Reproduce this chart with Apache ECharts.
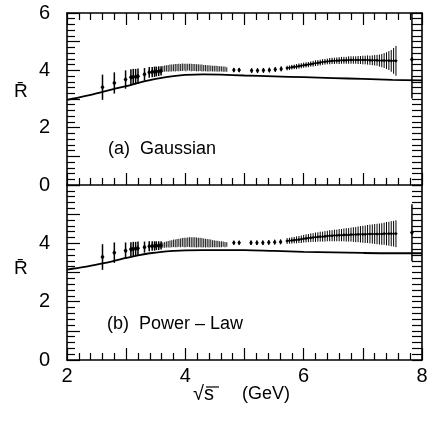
<!DOCTYPE html>
<html><head><meta charset="utf-8">
<script src="https://cdn.jsdelivr.net/npm/echarts@6/dist/echarts.min.js"></script>
<style>html,body{margin:0;padding:0;background:#fff}#c{width:427px;height:423px}</style>
</head><body><div id="c"></div>
<script>
// ---- data (x = sqrt(s) GeV, y = R, err) ----
const curveX = [2.0,2.3,2.6,2.8,3.0,3.2,3.4,3.6,3.8,4.0,4.3,4.6,5.0,5.5,6.0,6.5,7.0,7.5,8.0];
const curveGauss = [2.97,3.10,3.25,3.35,3.45,3.56,3.66,3.74,3.80,3.84,3.86,3.85,3.82,3.79,3.76,3.73,3.70,3.67,3.65];
const curvePower = [3.10,3.19,3.31,3.40,3.50,3.59,3.66,3.71,3.74,3.76,3.77,3.77,3.77,3.74,3.71,3.69,3.67,3.66,3.66];

const sparseA = [[2.60,3.41,0.44],[2.80,3.56,0.37],[2.99,3.68,0.32],[3.08,3.76,0.28],[3.12,3.77,0.28],[3.16,3.78,0.27],[3.20,3.79,0.27],[3.31,3.86,0.22],[3.39,3.93,0.19],[3.44,3.94,0.18],[3.48,3.95,0.18],[3.51,3.96,0.17],[3.55,3.97,0.17],[3.59,3.98,0.16]];
const sparseB = [[2.60,3.53,0.44],[2.80,3.68,0.35],[2.99,3.75,0.28],[3.08,3.80,0.24],[3.12,3.81,0.24],[3.16,3.82,0.23],[3.20,3.83,0.23],[3.31,3.87,0.19],[3.39,3.90,0.17],[3.44,3.91,0.16],[3.48,3.91,0.16],[3.51,3.92,0.15],[3.55,3.92,0.15],[3.59,3.93,0.14]];

const bandA = [[3.62,4.05,0.10],[3.65,4.06,0.11],[3.68,4.07,0.11],[3.71,4.07,0.12],[3.74,4.08,0.12],[3.77,4.08,0.12],[3.80,4.09,0.12],[3.83,4.09,0.13],[3.86,4.10,0.12],[3.89,4.10,0.13],[3.92,4.10,0.12],[3.95,4.11,0.13],[3.98,4.11,0.12],[4.01,4.10,0.13],[4.04,4.11,0.12],[4.07,4.11,0.12],[4.10,4.10,0.13],[4.13,4.10,0.12],[4.16,4.10,0.12],[4.19,4.09,0.12],[4.22,4.09,0.12],[4.25,4.09,0.11],[4.28,4.08,0.12],[4.31,4.08,0.11],[4.34,4.08,0.11],[4.37,4.07,0.11],[4.40,4.07,0.11],[4.43,4.07,0.10],[4.46,4.06,0.10],[4.49,4.06,0.10],[4.52,4.06,0.10],[4.55,4.05,0.10],[4.58,4.05,0.09],[4.61,4.05,0.09],[4.64,4.04,0.09],[4.67,4.04,0.09],[4.70,4.03,0.08]];
const bandB = [[3.62,3.94,0.09],[3.65,3.95,0.10],[3.68,3.96,0.10],[3.71,3.97,0.11],[3.74,3.98,0.12],[3.77,3.99,0.12],[3.80,4.00,0.13],[3.83,4.00,0.13],[3.86,4.01,0.14],[3.89,4.02,0.14],[3.92,4.02,0.15],[3.95,4.03,0.15],[3.98,4.03,0.16],[4.01,4.03,0.16],[4.04,4.04,0.16],[4.07,4.04,0.17],[4.10,4.04,0.17],[4.13,4.04,0.17],[4.16,4.04,0.17],[4.19,4.03,0.17],[4.22,4.03,0.16],[4.25,4.03,0.16],[4.28,4.02,0.16],[4.31,4.02,0.15],[4.34,4.01,0.15],[4.37,4.01,0.14],[4.40,4.00,0.14],[4.43,4.00,0.13],[4.46,3.99,0.12],[4.49,3.99,0.12],[4.52,3.98,0.11],[4.55,3.98,0.11],[4.58,3.97,0.10],[4.61,3.97,0.10],[4.64,3.97,0.09],[4.67,3.96,0.09],[4.70,3.96,0.08]];

const midA = [[4.82,4.01,0.07],[4.91,4.01,0.07],[5.12,3.99,0.08],[5.22,3.99,0.08],[5.32,4.00,0.08],[5.42,4.01,0.08],[5.52,4.03,0.08],[5.62,4.05,0.08]];
const midB = [[4.82,4.02,0.07],[4.91,4.02,0.07],[5.11,4.02,0.08],[5.21,4.02,0.08],[5.31,4.02,0.08],[5.41,4.03,0.08],[5.51,4.04,0.08],[5.61,4.05,0.08]];

const denseA = [[5.72,4.08,0.08],[5.76,4.09,0.08],[5.80,4.11,0.08],[5.84,4.12,0.08],[5.88,4.13,0.09],[5.92,4.15,0.09],[5.96,4.16,0.09],[6.00,4.18,0.09],[6.04,4.19,0.09],[6.08,4.20,0.09],[6.12,4.22,0.09],[6.16,4.23,0.10],[6.20,4.25,0.10],[6.24,4.26,0.10],[6.28,4.27,0.10],[6.32,4.29,0.10],[6.36,4.30,0.10],[6.40,4.31,0.10],[6.44,4.32,0.11],[6.48,4.33,0.11],[6.52,4.33,0.11],[6.56,4.34,0.11],[6.60,4.34,0.12],[6.64,4.35,0.12],[6.68,4.35,0.12],[6.72,4.35,0.12],[6.76,4.36,0.13],[6.80,4.36,0.13],[6.84,4.36,0.13],[6.88,4.36,0.13],[6.92,4.36,0.14],[6.96,4.36,0.14],[7.00,4.36,0.15],[7.04,4.36,0.15],[7.08,4.36,0.16],[7.12,4.35,0.16],[7.16,4.35,0.17],[7.20,4.35,0.18],[7.24,4.35,0.19],[7.28,4.34,0.21],[7.32,4.34,0.23],[7.36,4.34,0.26],[7.40,4.34,0.29],[7.44,4.34,0.33],[7.48,4.33,0.38],[7.52,4.33,0.45],[7.56,4.33,0.52]];
const denseB = [[5.72,4.08,0.10],[5.76,4.09,0.10],[5.80,4.10,0.11],[5.84,4.11,0.11],[5.88,4.12,0.12],[5.92,4.13,0.12],[5.96,4.14,0.13],[6.00,4.16,0.13],[6.04,4.17,0.14],[6.08,4.18,0.14],[6.12,4.19,0.15],[6.16,4.20,0.15],[6.20,4.21,0.16],[6.24,4.22,0.16],[6.28,4.23,0.17],[6.32,4.23,0.17],[6.36,4.24,0.18],[6.40,4.25,0.18],[6.44,4.26,0.19],[6.48,4.26,0.19],[6.52,4.27,0.20],[6.56,4.27,0.20],[6.60,4.28,0.21],[6.64,4.28,0.21],[6.68,4.29,0.22],[6.72,4.29,0.23],[6.76,4.29,0.23],[6.80,4.30,0.24],[6.84,4.30,0.25],[6.88,4.30,0.26],[6.92,4.31,0.27],[6.96,4.31,0.28],[7.00,4.31,0.29],[7.04,4.31,0.30],[7.08,4.32,0.31],[7.12,4.32,0.32],[7.16,4.32,0.33],[7.20,4.32,0.34],[7.24,4.32,0.35],[7.28,4.32,0.36],[7.32,4.32,0.37],[7.36,4.33,0.38],[7.40,4.33,0.40],[7.44,4.33,0.41],[7.48,4.33,0.43],[7.52,4.33,0.44],[7.56,4.33,0.46]];

// edge point: [x, y, errDown, errUp]
const edgeA = [[7.83,4.38,1.36,1.90]];
const edgeB = [[7.83,4.37,0.98,0.97]];

const yTickLabelsA = [0,2,4,6];
const yTickLabelsB = [0,2,4];
const xTickLabels = [2,4,6,8];

// ---- chart ----
const FONT = '"Liberation Sans", Arial, sans-serif';
const chart = echarts.init(document.getElementById('c'), null, {renderer:'canvas'});

function errRenderer(opts){
  return function(params, api){
    const x = api.value(0), y = api.value(1), ed = api.value(2);
    let eu = api.value(3); if (eu == null || isNaN(eu)) eu = ed;
    const p = api.coord([x, y]);
    const lo = api.coord([x, y - ed]);
    const hi = api.coord([x, y + eu]);
    const ch = [{type:'line', shape:{x1:p[0], y1:lo[1], x2:p[0], y2:hi[1]},
      style:{stroke:opts.color, lineWidth:opts.lw}}];
    if (opts.marker) {
      const w = opts.mw, h = opts.mh;
      ch.push({type:'polygon', shape:{points:[[p[0],p[1]-h],[p[0]+w,p[1]],[p[0],p[1]+h],[p[0]-w,p[1]]]},
        style:{fill:'#000'}});
    }
    return {type:'group', children:ch};
  };
}

const axLine = {show:true, onZero:false, lineStyle:{color:'#000', width:1.6}};
function xAx(grid, pos, ticks){
  return {type:'value', gridIndex:grid, position:pos, min:2, max:8, interval:1,
    axisLine:axLine,
    axisTick:{show:ticks, inside:true, length:12, lineStyle:{color:'#000', width:1.2}},
    minorTick:{show:ticks, splitNumber:5, length:7, lineStyle:{color:'#000', width:1.2}},
    splitLine:{show:false}, minorSplitLine:{show:false},
    axisLabel:{show:false}
  };
}
function yAx(grid, pos, majLen, minLen){
  return {type:'value', gridIndex:grid, position:pos, min:0, max:6, interval:1,
    axisLine:axLine,
    axisTick:{show:true, inside:true, length:majLen, lineStyle:{color:'#000', width:1.2}},
    minorTick:{show:true, splitNumber:5, length:minLen, lineStyle:{color:'#000', width:1.2}},
    splitLine:{show:false}, minorSplitLine:{show:false},
    axisLabel:{show:false}
  };
}

function panelSeries(k, curve, sparse, band, mid, dense, edge){
  return [
    {type:'line', xAxisIndex:2*k, yAxisIndex:2*k, data:curveX.map((x,i)=>[x, curve[i]]),
      smooth:0.35, showSymbol:false, lineStyle:{color:'#000', width:1.8}, z:3, animation:false},
    {type:'custom', xAxisIndex:2*k, yAxisIndex:2*k, data:sparse, clip:true, animation:false,
      renderItem:errRenderer({color:'#000', lw:1.5, marker:true, mw:2, mh:2.8})},
    {type:'custom', xAxisIndex:2*k, yAxisIndex:2*k, data:band, clip:true, animation:false,
      renderItem:errRenderer({color:'#2a2a2a', lw:1.1, marker:false})},
    {type:'custom', xAxisIndex:2*k, yAxisIndex:2*k, data:mid, clip:true, animation:false,
      renderItem:errRenderer({color:'#000', lw:1.3, marker:true, mw:1.8, mh:2.6})},
    {type:'custom', xAxisIndex:2*k, yAxisIndex:2*k, data:dense, clip:true, animation:false,
      renderItem:errRenderer({color:'#000', lw:1, marker:true, mw:1.8, mh:1.6})},
    {type:'custom', xAxisIndex:2*k, yAxisIndex:2*k, data:edge, clip:true, animation:false,
      dimensions:['x','y','ed','eu'],
      renderItem:errRenderer({color:'#000', lw:1.5, marker:true, mw:2, mh:2.6})}
  ];
}

const baseGraphic = [
  {type:'text', left:14, top:82, style:{text:'R\u0304', font:'19px '+FONT, fill:'#000'}},
  {type:'text', left:14, top:259, style:{text:'R\u0304', font:'19px '+FONT, fill:'#000'}},
  {type:'text', left:108, top:140, style:{text:'(a)  Gaussian', font:'18px '+FONT, fill:'#000'}},
  {type:'text', left:107, top:315, style:{text:'(b)  Power \u2013 Law', font:'18px '+FONT, fill:'#000'}},
  {type:'text', left:193, top:384, style:{text:'\u221As', font:'20px '+FONT, fill:'#000'}},
  {type:'line', shape:{x1:206, y1:387, x2:219, y2:387}, style:{stroke:'#000', lineWidth:1.2}},
  {type:'text', left:242, top:385, style:{text:'(GeV)', font:'18px '+FONT, fill:'#000'}}
];

const option = {
  backgroundColor:'#fff',
  animation:false,
  grid:[
    {left:67, top:13, width:355, height:172},
    {left:67, top:185, width:355, height:175}
  ],
  xAxis:[
    xAx(0,'bottom',true),
    xAx(0,'top',true),
    xAx(1,'bottom',true),
    Object.assign(xAx(1,'top',false), {axisLine:{show:false}})
  ],
  yAxis:[
    yAx(0,'left',13,8),
    yAx(0,'right',10,10),
    yAx(1,'left',13,8),
    yAx(1,'right',10,10)
  ],
  series:[].concat(
    panelSeries(0, curveGauss, sparseA, bandA, midA, denseA, edgeA),
    panelSeries(1, curvePower, sparseB, bandB, midB, denseB, edgeB)
  ),
  graphic:baseGraphic
};
chart.setOption(option);

// tick labels placed through the axis scales (value -> pixel)
const tickGraphic = [];
function addLabel(finder, xv, yv, text, isX){
  const p = chart.convertToPixel(finder, [xv, yv]);
  tickGraphic.push({type:'text', x: isX ? p[0] : p[0] - 17, y: isX ? p[1] + 6 : p[1], silent:true,
    style:{text:text, font:'20px '+FONT, fill:'#000',
      align: isX ? 'center' : 'right', verticalAlign: isX ? 'top' : 'middle'}});
}
yTickLabelsA.forEach(v => addLabel({xAxisIndex:0, yAxisIndex:0}, 2, v, String(v), false));
yTickLabelsB.forEach(v => addLabel({xAxisIndex:2, yAxisIndex:2}, 2, v, String(v), false));
xTickLabels.forEach(v => addLabel({xAxisIndex:2, yAxisIndex:2}, v, 0, String(v), true));
chart.setOption({graphic: baseGraphic.concat(tickGraphic)});
</script></body></html>
